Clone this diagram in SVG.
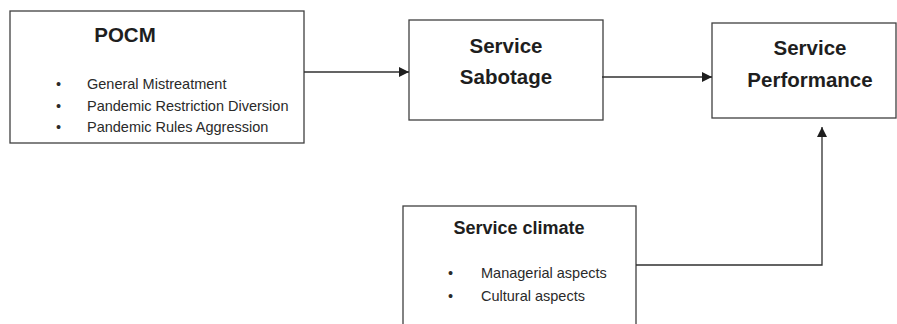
<svg xmlns="http://www.w3.org/2000/svg" width="897" height="324" viewBox="0 0 897 324">
<defs>
<style>
.box{fill:#fff;stroke:#404040;stroke-width:1.3}
.title{font-family:"Liberation Sans",Arial,sans-serif;font-weight:bold;fill:#1e1e1e}
.item{font-family:"Liberation Sans",Arial,sans-serif;font-size:14.5px;fill:#2a2a2a}
.con{fill:none;stroke:#303030;stroke-width:1.3}
</style>
<marker id="ah" viewBox="0 0 10 10" refX="10" refY="5" markerWidth="10" markerHeight="10" markerUnits="userSpaceOnUse" orient="auto">
<path d="M0,0 L10,5 L0,10 Z" fill="#1e1e1e"/>
</marker>
</defs>
<g id="pocm">
<rect class="box" x="10" y="11" width="294" height="132"/>
<text class="title" x="125" y="42" font-size="20.5" text-anchor="middle">POCM</text>
<text class="item" x="56" y="89">•</text><text class="item" x="87" y="89">General Mistreatment</text>
<text class="item" x="56" y="111">•</text><text class="item" x="87" y="111">Pandemic Restriction Diversion</text>
<text class="item" x="56" y="132">•</text><text class="item" x="87" y="132">Pandemic Rules Aggression</text>
</g>
<g id="sabotage">
<rect class="box" x="409" y="20" width="194" height="100"/>
<text class="title" x="506" y="53" font-size="20.5" text-anchor="middle">Service</text>
<text class="title" x="506" y="84" font-size="20.5" text-anchor="middle">Sabotage</text>
</g>
<g id="performance">
<rect class="box" x="712" y="23" width="184" height="95"/>
<text class="title" x="810" y="55" font-size="20.5" text-anchor="middle">Service</text>
<text class="title" x="810" y="87" font-size="20.5" text-anchor="middle">Performance</text>
</g>
<g id="climate">
<rect class="box" x="403" y="206" width="233" height="130"/>
<text class="title" x="519" y="234" font-size="18" text-anchor="middle">Service climate</text>
<text class="item" x="448" y="278">•</text><text class="item" x="481" y="278">Managerial aspects</text>
<text class="item" x="448" y="301">•</text><text class="item" x="481" y="301">Cultural aspects</text>
</g>
<g id="connectors">
<path class="con" d="M304,72 H409" marker-end="url(#ah)"/>
<path class="con" d="M602,77 H712" marker-end="url(#ah)"/>
<path class="con" d="M636,265 H822 V127" marker-end="url(#ah)"/>
</g>
</svg>
